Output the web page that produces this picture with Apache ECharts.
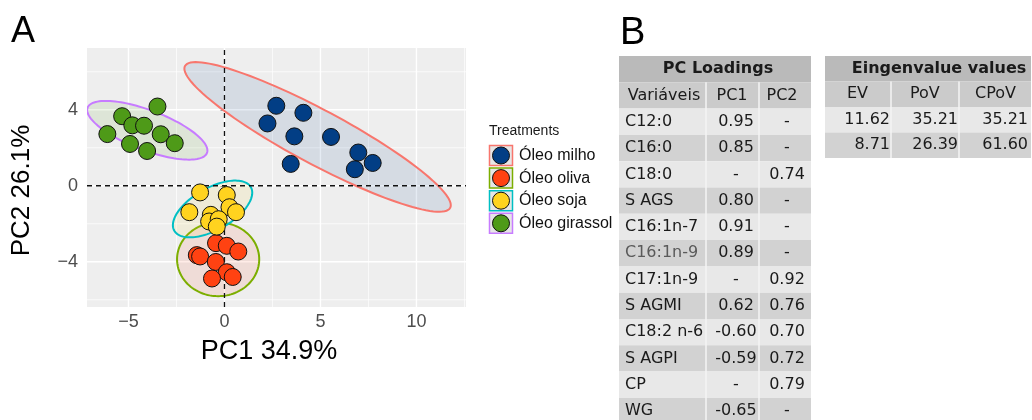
<!DOCTYPE html>
<html>
<head>
<meta charset="utf-8">
<script src="https://cdn.jsdelivr.net/npm/echarts@6/dist/echarts.min.js"></script>
<style>
  html, body { margin: 0; padding: 0; background: #fff; }
  #main { width: 1032px; height: 420px; }
</style>
</head>
<body>
<div id="main"></div>
<script>
// scores PC1 / PC2
const groups = ['Óleo milho', 'Óleo oliva', 'Óleo soja', 'Óleo girassol'];
const milho = [[2.70, 4.21], [4.11, 3.84], [2.24, 3.28], [3.64, 2.60], [5.55, 2.57], [3.45, 1.15], [6.97, 1.75], [7.72, 1.20], [6.79, 0.87]];
const oliva = [[-0.44, -3.02], [0.12, -3.16], [0.72, -3.46], [-1.44, -3.65], [-1.27, -3.72], [-0.45, -4.01], [0.12, -4.55], [0.43, -4.80], [-0.65, -4.88]];
const soja = [[-1.27, -0.35], [0.12, -0.49], [0.26, -1.13], [-1.83, -1.39], [0.60, -1.39], [-0.71, -1.53], [-0.80, -1.88], [-0.30, -1.76], [-0.40, -2.15]];
const girassol = [[-3.49, 4.17], [-5.33, 3.66], [-4.80, 3.18], [-4.19, 3.16], [-6.10, 2.72], [-3.32, 2.71], [-4.92, 2.20], [-2.59, 2.24], [-4.03, 1.83]];

// ellipses: centre, semi axes, angle (deg)
const ellCenter = [[4.85, 2.57], [-0.33, -3.87], [-0.62, -1.22], [-4.02, 2.92]];
const ellAxes = [[7.85, 1.42], [2.14, 1.94], [2.3, 1.1], [3.33, 1.05]];
const ellAngle = [-28.4, 0, 30, -21];

const xTicks = [-5, 0, 5, 10];
const yTicks = [-4, 0, 4];
const xMinor = [-2.5, 2.5, 7.5, 12.5];
const yMinor = [-6, -2, 2, 6];

// table B
const loadVars = ['C12:0', 'C16:0', 'C18:0', 'S AGS', 'C16:1n-7', 'C16:1n-9', 'C17:1n-9', 'S AGMI', 'C18:2 n-6', 'S AGPI', 'CP', 'WG'];
const loadPC1 = ['0.95', '0.85', '-', '0.80', '0.91', '0.89', '-', '0.62', '-0.60', '-0.59', '-', '-0.65'];
const loadPC2 = ['-', '-', '0.74', '-', '-', '-', '0.92', '0.76', '0.70', '0.72', '0.79', '-'];
const eigEV = ['11.62', '8.71'];
const eigPoV = ['35.21', '26.39'];
const eigCPoV = ['35.21', '61.60'];

const pointColors = ['#023e85', '#ff4212', '#ffd31f', '#4e9a18'];
const ellColors = ['#f8766d', '#7cae00', '#00bfc4', '#c77cff'];
const groupData = [milho, oliva, soja, girassol];

const X_MIN = -7.16, X_MAX = 12.58, Y_MIN = -6.38, Y_MAX = 7.25;

function hexA(hex, a) {
  const n = parseInt(hex.slice(1), 16);
  return 'rgba(' + (n >> 16) + ',' + ((n >> 8) & 255) + ',' + (n & 255) + ',' + a + ')';
}
function minus(v) {
  return v < 0 ? '\u2212' + Math.abs(v) : String(v);
}

const chart = echarts.init(document.getElementById('main'));

// grid lines + zero lines as data
const gridLines = [];
xMinor.forEach(v => gridLines.push([v, 0, 0]));
yMinor.forEach(v => gridLines.push([v, 1, 0]));
xTicks.forEach(v => gridLines.push([v, 0, 1]));
yTicks.forEach(v => gridLines.push([v, 1, 1]));
const zeroLines = [[0, 0], [0, 1]];

const ellData = ellCenter.map((c, i) => [c[0], c[1], ellAxes[i][0], ellAxes[i][1], ellAngle[i], i]);

const graphics = [];
// panel letters
graphics.push({ type: 'text', left: 11, top: 14, style: { text: 'A', font: '36px "Liberation Sans"', fill: '#000' } });
graphics.push({ type: 'text', left: 620, top: 15, style: { text: 'B', font: '38px "Liberation Sans"', fill: '#000' } });

// legend
graphics.push({ type: 'text', x: 489, y: 131, style: { text: 'Treatments', font: '14px "Liberation Sans"', fill: '#1a1a1a', verticalAlign: 'middle' } });
groups.forEach((g, i) => {
  const cy = 155.5 + i * 22.6;
  graphics.push({ type: 'rect', shape: { x: 489.5, y: cy - 10, width: 23, height: 20 }, style: { fill: '#e6e6e6', stroke: ellColors[i], lineWidth: 1.5 } });
  graphics.push({ type: 'circle', shape: { cx: 501, cy: cy, r: 8.5 }, style: { fill: pointColors[i], stroke: '#111', lineWidth: 1 } });
  graphics.push({ type: 'text', x: 519, y: cy, style: { text: g, font: '16px "Liberation Sans"', fill: '#111', verticalAlign: 'middle' } });
});

// loadings table
const tFont = '16px "DejaVu Sans"';
const lc = [619, 706, 759, 811];
const rh = 26.3, r0 = 56;
function rowRect(x0, x1, y, h, fill) {
  graphics.push({ type: 'rect', shape: { x: x0, y: y, width: x1 - x0, height: h }, style: { fill: fill } });
}
function cellText(txt, x, y, align, bold, col) {
  graphics.push({ type: 'text', x: x, y: y, style: { text: txt, font: (bold ? 'bold ' : '') + tFont, fill: col || '#1a1a1a', align: align, verticalAlign: 'middle' } });
}
rowRect(lc[0], lc[3], r0, rh, '#bababa');
cellText('PC Loadings', 718, r0 + rh / 2, 'center', true);
rowRect(lc[0], lc[3], r0 + rh, rh, '#cbcbcb');
cellText('Variáveis', 664, r0 + rh * 1.5, 'center');
cellText('PC1', 732, r0 + rh * 1.5, 'center');
cellText('PC2', 782, r0 + rh * 1.5, 'center');
loadVars.forEach((v, i) => {
  const y = r0 + rh * (i + 2);
  rowRect(lc[0], lc[3], y, rh, i % 2 === 0 ? '#e8e8e8' : '#d2d2d2');
  cellText(v, 625, y + rh / 2, 'left', false, v === 'C16:1n-9' ? '#5a5a5a' : null);
  cellText(loadPC1[i], 736, y + rh / 2, 'center');
  cellText(loadPC2[i], 787, y + rh / 2, 'center');
});
[lc[1], lc[2]].forEach(x => {
  graphics.push({ type: 'line', shape: { x1: x, y1: r0 + rh, x2: x, y2: 420 }, style: { stroke: '#f4f4f4', lineWidth: 1.5 } });
});

// eigenvalue table
const ec = [825, 891, 959, 1031];
const eh = 25.5;
rowRect(ec[0], ec[3], r0, eh, '#bababa');
cellText('Eingenvalue values', 939, r0 + eh / 2, 'center', true);
rowRect(ec[0], ec[3], r0 + eh, eh, '#cbcbcb');
cellText('EV', 847, r0 + eh * 1.5, 'left');
cellText('PoV', 910, r0 + eh * 1.5, 'left');
cellText('CPoV', 975, r0 + eh * 1.5, 'left');
eigEV.forEach((v, i) => {
  const y = r0 + eh * (i + 2);
  rowRect(ec[0], ec[3], y, eh, i % 2 === 0 ? '#e8e8e8' : '#d2d2d2');
  cellText(v, 890, y + eh / 2, 'right');
  cellText(eigPoV[i], 958, y + eh / 2, 'right');
  cellText(eigCPoV[i], 1028, y + eh / 2, 'right');
});
[ec[1], ec[2]].forEach(x => {
  graphics.push({ type: 'line', shape: { x1: x, y1: r0 + eh, x2: x, y2: r0 + eh * 4 }, style: { stroke: '#f4f4f4', lineWidth: 1.5 } });
});

const series = [];
// background grid lines
series.push({
  type: 'custom', z: 1, silent: true, clip: true,
  data: gridLines,
  renderItem: function (params, api) {
    const v = api.value(0), horiz = api.value(1) === 1, major = api.value(2) === 1;
    const p1 = horiz ? api.coord([X_MIN, v]) : api.coord([v, Y_MIN]);
    const p2 = horiz ? api.coord([X_MAX, v]) : api.coord([v, Y_MAX]);
    return { type: 'line', shape: { x1: p1[0], y1: p1[1], x2: p2[0], y2: p2[1] }, style: { stroke: '#ffffff', lineWidth: major ? 1.4 : 0.7 } };
  }
});
// ellipses
series.push({
  type: 'custom', z: 2, silent: true, clip: true,
  data: ellData,
  renderItem: function (params, api) {
    const cx = api.value(0), cy = api.value(1), a = api.value(2), b = api.value(3);
    const th = api.value(4) * Math.PI / 180, gi = api.value(5);
    const pts = [];
    for (let k = 0; k < 120; k++) {
      const t = 2 * Math.PI * k / 120;
      const x = cx + a * Math.cos(t) * Math.cos(th) - b * Math.sin(t) * Math.sin(th);
      const y = cy + a * Math.cos(t) * Math.sin(th) + b * Math.sin(t) * Math.cos(th);
      pts.push(api.coord([x, y]));
    }
    return { type: 'polygon', shape: { points: pts }, style: { fill: hexA(pointColors[gi], 0.1), stroke: ellColors[gi], lineWidth: 2 } };
  }
});
// dashed zero lines
series.push({
  type: 'custom', z: 3, silent: true, clip: true,
  data: zeroLines,
  renderItem: function (params, api) {
    const v = api.value(0), horiz = api.value(1) === 1;
    const p1 = horiz ? api.coord([X_MIN, v]) : api.coord([v, Y_MIN]);
    const p2 = horiz ? api.coord([X_MAX, v]) : api.coord([v, Y_MAX]);
    return { type: 'line', shape: { x1: p1[0], y1: p1[1], x2: p2[0], y2: p2[1] }, style: { stroke: '#111', lineWidth: 1.3, lineDash: [5, 4] } };
  }
});
groups.forEach((g, i) => {
  series.push({
    name: g, type: 'scatter', z: 5,
    data: groupData[i],
    symbolSize: 17,
    itemStyle: { color: pointColors[i], borderColor: '#111', borderWidth: 1, opacity: 1 }
  });
});

chart.setOption({
  animation: false,
  backgroundColor: '#ffffff',
  grid: { left: 87, top: 48, width: 379, height: 259, show: true, backgroundColor: '#eeeeee', borderWidth: 0 },
  xAxis: {
    type: 'value', min: X_MIN, max: X_MAX,
    axisLine: { show: false }, splitLine: { show: false },
    axisTick: { show: true, customValues: xTicks, length: 4, lineStyle: { color: '#333' } },
    axisLabel: { customValues: xTicks, color: '#4d4d4d', fontSize: 18, fontFamily: 'Liberation Sans', margin: 6, formatter: minus },
    name: 'PC1 34.9%', nameLocation: 'middle', nameGap: 31,
    nameTextStyle: { fontSize: 27, color: '#000', fontFamily: 'Liberation Sans', padding: [0, 15, 0, 0] }
  },
  yAxis: {
    type: 'value', min: Y_MIN, max: Y_MAX,
    axisLine: { show: false }, splitLine: { show: false },
    axisTick: { show: true, customValues: yTicks, length: 4, lineStyle: { color: '#333' } },
    axisLabel: { customValues: yTicks, color: '#4d4d4d', fontSize: 18, fontFamily: 'Liberation Sans', margin: 9, formatter: minus },
    name: 'PC2 26.1%', nameLocation: 'middle', nameGap: 52, nameRotate: 90,
    nameTextStyle: { fontSize: 26, color: '#000', fontFamily: 'Liberation Sans', padding: [0, 26, 0, 0] }
  },
  graphic: graphics,
  series: series
});
</script>
</body>
</html>
